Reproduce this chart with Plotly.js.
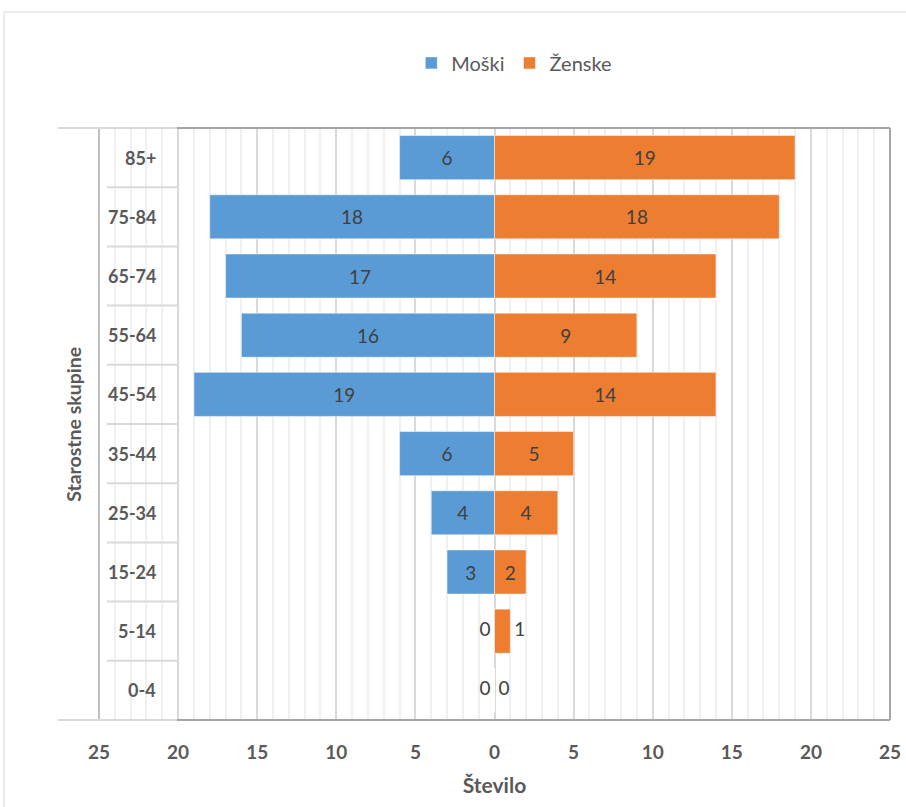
<!DOCTYPE html>
<html>
<head>
<meta charset="utf-8">
<script src="https://cdn.plot.ly/plotly-3.0.1.min.js"></script>
<style>
html,body{margin:0;padding:0;background:#fff;}
#chart{width:906px;height:807px;}
</style>
</head>
<body>
<div id="chart"></div>
<script>
// Data (bottom to top)
const categories = ['0-4','5-14','15-24','25-34','35-44','45-54','55-64','65-74','75-84','85+'];
const moski  = [0, 0, 3, 4, 6, 19, 16, 17, 18, 6];
const zenske = [0, 1, 2, 4, 5, 14, 9, 14, 18, 19];
const tickValues = [-25,-20,-15,-10,-5,0,5,10,15,20,25];
const tickLabels = ['25','20','15','10','5','0','5','10','15','20','25'];

const FONT = 'Lato, "Open Sans", sans-serif';
const blue = '#5B9BD5', orange = '#ED7D31';
const LABEL = {family:FONT, size:19, color:'#404040'};

const fits = v => v >= 2;

const traces = [
  {
    type:'bar', orientation:'h', name:'Moški',
    y: categories, x: moski.map(v => -v),
    text: moski.map(v => fits(v) ? String(v) : ''), textposition:'inside',
    insidetextanchor:'middle', constraintext:'none',
    textfont:LABEL,
    marker:{color:blue, line:{color:'rgba(255,255,255,0.5)', width:1}},
    hoverinfo:'skip'
  },
  {
    type:'bar', orientation:'h', name:'Ženske',
    y: categories, x: zenske,
    text: zenske.map(v => fits(v) ? String(v) : ''), textposition:'inside',
    insidetextanchor:'middle', constraintext:'none',
    textfont:LABEL,
    marker:{color:orange, line:{color:'rgba(255,255,255,0.5)', width:1}},
    hoverinfo:'skip'
  },
  // labels for bars too small to hold them, placed just outside the bar end
  {
    type:'scatter', mode:'text', showlegend:false, hoverinfo:'skip', cliponaxis:false,
    y: categories.filter((c,i) => !fits(moski[i])),
    x: moski.filter(v => !fits(v)).map(v => -v - 0.25),
    text: moski.filter(v => !fits(v)).map(String),
    textposition:'middle left', textfont:LABEL
  },
  {
    type:'scatter', mode:'text', showlegend:false, hoverinfo:'skip', cliponaxis:false,
    y: categories.filter((c,i) => !fits(zenske[i])),
    x: zenske.filter(v => !fits(v)).map(v => v + 0.25),
    text: zenske.filter(v => !fits(v)).map(String),
    textposition:'middle right', textfont:LABEL
  }
];

const shapes = [];
for (let i = 0; i < categories.length - 1; i++) {
  shapes.push({type:'line', xref:'x', yref:'y', x0:-24.5, x1:-20, y0:i+0.5, y1:i+0.5,
    line:{color:'#d9d9d9', width:2}, layer:'above'});
}
shapes.push({type:'line', xref:'x', yref:'paper', x0:-20, x1:-20, y0:0, y1:1, line:{color:'#d9d9d9', width:2}});
shapes.push({type:'line', xref:'paper', yref:'paper', x0:0, x1:0, y0:0, y1:1, line:{color:'#bfbfbf', width:2}});
shapes.push({type:'line', xref:'paper', yref:'paper', x0:1, x1:1, y0:0, y1:1, line:{color:'#a6a6a6', width:2}});
[0,1].forEach(yy => {
  shapes.push({type:'line', xref:'paper', yref:'paper', x0:-0.052, x1:0.0986, y0:yy, y1:yy, line:{color:'#d9d9d9', width:2}});
  shapes.push({type:'line', xref:'paper', yref:'paper', x0:0.0986, x1:1, y0:yy, y1:yy, line:{color:'#a6a6a6', width:2}});
});
shapes.push({type:'rect', xref:'paper', yref:'paper', x0:-0.12, x1:1.03, y0:-0.16, y1:1.196,
  line:{color:'#d9d9d9', width:1}});

const annotations = categories.map((c, i) => ({
  xref:'x', yref:'y', x:-21.25, y:c, text:c, showarrow:false, xanchor:'right', yanchor:'middle',
  font:{family:FONT, size:18, color:'#595959', weight:'bold'}
}));
annotations.push({
  xref:'paper', yref:'paper', x:-0.016, y:0.5, text:'Starostne skupine', textangle:-90,
  showarrow:false, xanchor:'right', yanchor:'middle',
  font:{family:FONT, size:19.5, color:'#595959', weight:'bold'}
});

const layout = {
  width:906, height:807,
  margin:{l:99, r:16, t:128, b:87},
  paper_bgcolor:'#fff', plot_bgcolor:'#fff',
  barmode:'relative', bargap:0.255,
  showlegend:true,
  legend:{orientation:'h', x:0.525, xanchor:'center', y:1.11, yanchor:'middle',
    font:{family:FONT, size:20, color:'#595959'}, itemwidth:30, traceorder:'normal'},
  xaxis:{
    range:[-25,25], tickvals:tickValues, ticktext:tickLabels,
    showgrid:true, gridcolor:'#d9d9d9', gridwidth:2,
    minor:{dtick:1, showgrid:true, gridcolor:'#f0f0f0', gridwidth:2},
    zeroline:true, zerolinecolor:'#d9d9d9', zerolinewidth:2,
    showline:false, ticks:'', ticklabelstandoff:19,
    tickfont:{family:FONT, size:19, color:'#595959', weight:'bold'},
    title:{text:'Število', standoff:16, font:{family:FONT, size:21, color:'#595959', weight:'bold'}},
    fixedrange:true
  },
  yaxis:{
    type:'category', categoryorder:'array', categoryarray:categories,
    range:[-0.5, 9.5], showticklabels:false, showgrid:false, zeroline:false, showline:false, ticks:'',
    fixedrange:true
  },
  shapes: shapes,
  annotations: annotations
};

Plotly.newPlot('chart', traces, layout, {displayModeBar:false, staticPlot:true});
</script>
</body>
</html>
